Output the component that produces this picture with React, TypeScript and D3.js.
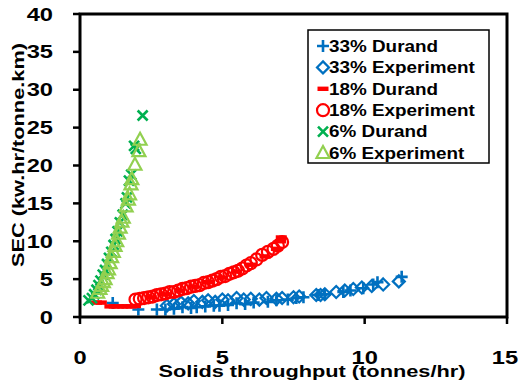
import React from "react";
import * as d3 from "d3";

// ---- data ----
const xTicks = [0, 5, 10, 15];
const yTicks = [0, 5, 10, 15, 20, 25, 30, 35, 40];

const d33X = [1.15, 2.05, 2.7, 3.0, 3.3, 3.6, 3.9, 4.1, 4.4, 4.7, 4.9, 5.2, 5.5, 5.8, 6.1, 6.6, 6.9, 7.3, 7.6, 7.85, 8.35, 8.6, 9.25, 9.5, 9.95, 10.3, 10.45, 11.3];
const d33Y = [1.85, 1.0, 1.0, 1.0, 1.1, 1.3, 1.2, 1.3, 1.4, 1.5, 1.5, 1.6, 1.8, 1.7, 1.9, 2.0, 2.2, 2.3, 2.5, 2.6, 2.9, 3.0, 3.3, 3.5, 3.8, 4.3, 4.6, 5.3];

const e33X = [3.05, 3.3, 3.55, 3.8, 4.0, 4.3, 4.5, 4.75, 5.0, 5.2, 5.5, 5.75, 6.0, 6.3, 6.55, 6.9, 7.1, 7.5, 7.7, 8.3, 8.45, 8.6, 9.0, 9.3, 9.6, 9.9, 10.25, 10.65, 11.2];
const e33Y = [1.5, 1.7, 1.9, 1.8, 2.1, 2.0, 2.2, 2.0, 2.3, 2.2, 2.5, 2.3, 2.4, 2.3, 2.5, 2.4, 2.5, 2.6, 2.7, 2.9, 2.9, 3.0, 3.3, 3.5, 3.7, 3.9, 4.1, 4.3, 4.7];

const d18X = [0.58, 0.75, 1.05, 1.2, 1.35, 1.5, 1.65, 1.8, 1.95, 2.5, 3.0, 3.5, 4.0, 4.5, 5.0, 5.5, 6.0, 6.5, 6.9, 7.05, 7.07];
const d18Y = [1.9, 1.9, 1.4, 1.4, 1.4, 1.4, 1.4, 1.4, 1.45, 2.6, 3.0, 3.5, 4.0, 4.6, 5.2, 6.0, 6.9, 8.0, 9.0, 10.0, 10.5];

const e18X = [1.95, 2.1, 2.25, 2.4, 2.55, 2.7, 2.85, 3.0, 3.15, 3.3, 3.45, 3.6, 3.75, 3.9, 4.05, 4.2, 4.35, 4.5, 4.65, 4.8, 4.95, 5.1, 5.25, 5.4, 5.55, 5.7, 5.85, 6.0, 6.2, 6.4, 6.6, 6.8, 6.95, 7.1];
const e18Y = [2.3, 2.4, 2.5, 2.6, 2.7, 2.9, 3.0, 3.1, 3.3, 3.3, 3.5, 3.7, 3.8, 4.0, 4.1, 4.2, 4.5, 4.6, 4.8, 5.0, 5.3, 5.4, 5.7, 5.9, 6.1, 6.4, 6.8, 7.1, 7.6, 8.2, 8.6, 9.0, 9.4, 9.9];

const d6X = [0.3, 0.42, 0.5, 0.58, 0.65, 0.72, 0.8, 0.88, 0.95, 1.02, 1.1, 1.18, 1.25, 1.32, 1.4, 1.5, 1.6, 1.65, 1.72, 1.8, 1.9, 1.96, 2.2];
const d6Y = [2.2, 2.5, 3.0, 3.6, 4.2, 4.8, 5.6, 6.2, 7.0, 7.8, 8.6, 9.5, 10.3, 11.3, 12.5, 13.5, 15.0, 15.8, 18.0, 18.8, 22.6, 22.2, 26.6];

const e6X = [0.62, 0.7, 0.76, 0.82, 0.88, 0.95, 1.0, 1.06, 1.11, 1.17, 1.23, 1.29, 1.35, 1.41, 1.47, 1.52, 1.62, 1.7, 1.74, 1.79, 1.82, 1.93, 2.07, 2.11];
const e6Y = [3.2, 3.7, 4.1, 4.6, 5.0, 5.8, 6.3, 7.1, 7.9, 8.6, 9.4, 10.0, 11.0, 11.8, 12.6, 13.1, 14.6, 15.5, 16.2, 17.5, 18.2, 20.1, 21.9, 23.4];

const legendLabels = ["33% Durand", "33% Experiment", "18% Durand", "18% Experiment", "6% Durand", "6% Experiment"];

const BLUE = "#0070C0";
const RED = "#FF0000";
const GREEN = "#00B050";
const LGREEN = "#92D050";
const FONT = "'Liberation Sans', Arial, sans-serif";
const SX = 1.28;

type Kind = "plus" | "diamond" | "dash" | "circle" | "x" | "tri";

function Marker({ kind, cx, cy }: { kind: Kind; cx: number; cy: number }) {
  switch (kind) {
    case "plus":
      return (
        <path d={`M${cx - 6},${cy}H${cx + 6}M${cx},${cy - 6}V${cy + 6}`} stroke={BLUE} strokeWidth={2.6} fill="none" />
      );
    case "diamond":
      return (
        <path d={`M${cx},${cy - 6}L${cx + 6},${cy}L${cx},${cy + 6}L${cx - 6},${cy}Z`} stroke={BLUE} strokeWidth={2.2} fill="none" />
      );
    case "dash":
      return <rect x={cx - 5.5} y={cy - 2.2} width={11} height={4.4} fill={RED} />;
    case "circle":
      return <circle cx={cx} cy={cy} r={6} stroke={RED} strokeWidth={2.2} fill="none" />;
    case "x":
      return (
        <path d={`M${cx - 5},${cy - 5}L${cx + 5},${cy + 5}M${cx + 5},${cy - 5}L${cx - 5},${cy + 5}`} stroke={GREEN} strokeWidth={2.6} fill="none" />
      );
    case "tri":
      return (
        <path d={`M${cx},${cy - 7}L${cx + 6.5},${cy + 5}L${cx - 6.5},${cy + 5}Z`} stroke={LGREEN} strokeWidth={2.2} fill="none" />
      );
  }
  return null;
}

export default function App() {
  const x = d3.scaleLinear().domain([0, 15]).range([80, 507]);
  const y = d3.scaleLinear().domain([0, 40]).range([317, 14]);

  const series: { xs: number[]; ys: number[]; kind: Kind }[] = [
    { xs: d33X, ys: d33Y, kind: "plus" },
    { xs: e33X, ys: e33Y, kind: "diamond" },
    { xs: d18X, ys: d18Y, kind: "dash" },
    { xs: e18X, ys: e18Y, kind: "circle" },
    { xs: d6X, ys: d6Y, kind: "x" },
    { xs: e6X, ys: e6Y, kind: "tri" },
  ];

  const legX = 308, legY = 30, legW = 181, legH = 133;
  const rowH = 21.4;

  return (
    <svg width={520} height={385} style={{ position: "absolute", left: 0, top: 0, background: "#fff" }} fontFamily={FONT}>
      <rect x={0} y={0} width={520} height={385} fill="#fff" />
      {/* series */}
      {series.map((s, si) => (
        <g key={si}>
          {s.xs.map((xv, i) => (
            <Marker key={i} kind={s.kind} cx={x(xv)} cy={y(s.ys[i])} />
          ))}
        </g>
      ))}
      {/* frame */}
      <rect x={x(0)} y={y(40)} width={x(15) - x(0)} height={y(0) - y(40)} fill="none" stroke="#000" strokeWidth={3} />
      {/* y ticks */}
      {yTicks.map((t) => (
        <g key={t}>
          <line x1={73} x2={x(0)} y1={y(t)} y2={y(t)} stroke="#000" strokeWidth={2.5} />
          <text transform={`translate(53,${y(t) + 6.6}) scale(${SX},1)`} textAnchor="end" fontSize={18.5} fontWeight="bold" fill="#000">
            {t}
          </text>
        </g>
      ))}
      {/* x ticks */}
      {xTicks.map((t) => (
        <g key={t}>
          <line x1={x(t)} x2={x(t)} y1={y(0)} y2={y(0) + 7} stroke="#000" strokeWidth={2.5} />
          <text transform={`translate(${x(t) - (t === 15 ? 2 : 0)},364) scale(${SX},1)`} textAnchor="middle" fontSize={18.5} fontWeight="bold" fill="#000">
            {t}
          </text>
        </g>
      ))}
      {/* axis titles */}
      <text transform={`translate(312,377) scale(${SX},1)`} textAnchor="middle" fontSize={17} fontWeight="bold" fill="#000">
        Solids throughput (tonnes/hr)
      </text>
      <text transform={`translate(24,155) rotate(-90) scale(${SX},1)`} textAnchor="middle" fontSize={17} fontWeight="bold" fill="#000">
        SEC (kw.hr/tonne.km)
      </text>
      {/* legend */}
      <rect x={legX} y={legY} width={legW} height={legH} fill="#fff" stroke="#000" strokeWidth={1.5} />
      {legendLabels.map((lab, i) => {
        const cy = legY + 16 + i * rowH;
        return (
          <g key={lab}>
            <Marker kind={series[i].kind} cx={323} cy={cy} />
            <text transform={`translate(329,${cy + 5.8}) scale(1.18,1)`} fontSize={16} fontWeight="bold" fill="#000">
              {lab}
            </text>
          </g>
        );
      })}
    </svg>
  );
}
